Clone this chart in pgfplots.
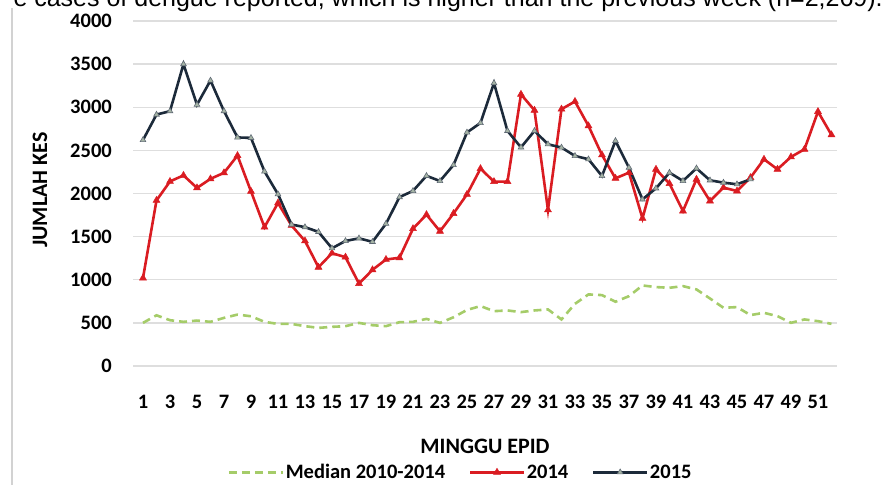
\documentclass[border=0pt]{standalone}
\usepackage{fontspec}
\setmainfont{Carlito}
\newfontfamily\arialfont{Liberation Sans}
\usepackage{pgfplots}
\pgfplotsset{compat=1.18}
\definecolor{red14}{RGB}{218,28,34}
\definecolor{navy15}{RGB}{28,42,58}
\definecolor{mark15}{RGB}{165,180,165}
\definecolor{medgreen}{RGB}{165,204,105}
\definecolor{gridgray}{RGB}{222,222,222}
\begin{document}
\begin{tikzpicture}
\path[use as bounding box] (0pt,0pt) rectangle (896pt,-485pt);
\draw[gray!35, line width=1.5pt] (12pt,-8pt) -- (12pt,-485pt);
\node[anchor=base east, inner sep=0pt, font=\arialfont\fontsize{25}{29}\selectfont] at (883pt,-6.5pt)
  {e cases of dengue reported, which is higher than the previous week (n=2,269).};
\begin{axis}[
  at={(133pt,-366pt)}, anchor=south west,
  scale only axis, width=704pt, height=345pt,
  xmin=0.26, xmax=52.41, ymin=0, ymax=4000,
  xtick={1,3,...,51},
  ytick={0,500,...,4000},
  ymajorgrids, grid style={gridgray, line width=1.3pt},
  axis line style={draw=none}, major tick length=0pt,
  tick style={draw=none},
  /pgf/number format/assume math mode=true,
  /pgf/number format/set thousands separator={},
  ticklabel style={font=\fontsize{20.5}{24}\selectfont\bfseries, inner sep=0pt},
  xticklabel style={anchor=center, yshift=-36pt},
  yticklabel style={anchor=east, xshift=-21pt},
  legend style={at={(0.465,-0.308)}, anchor=center, draw=none, fill=none,
    font=\fontsize{20.5}{24}\selectfont\bfseries, legend columns=3,
    /tikz/every even column/.append style={column sep=22pt},
    inner sep=0pt, nodes={inner sep=1.5pt}},
  legend image code/.code={\draw[mark repeat=2, mark phase=2, #1] plot coordinates {(0pt,0pt) (27pt,0pt) (54pt,0pt)};},
]
\addplot[medgreen, line width=2.6pt, dash pattern=on 8pt off 5pt, mark=none] coordinates {
(1,500)(2,588)(3,531)(4,512)(5,527)(6,512)(7,558)(8,596)(9,577)(10,512)
(11,488)(12,488)(13,462)(14,442)(15,454)(16,462)(17,500)(18,473)(19,462)(20,508)
(21,512)(22,546)(23,500)(24,565)(25,650)(26,695)(27,636)(28,644)(29,625)(30,644)
(31,656)(32,540)(33,721)(34,830)(35,822)(36,745)(37,810)(38,934)(39,915)(40,907)
(41,926)(42,888)(43,783)(44,675)(45,683)(46,590)(47,617)(48,578)(49,501)(50,540)
(51,520)(52,489)};
\addlegendentry{Median 2010-2014}
\addplot[red14, line width=2.6pt, mark=triangle*, mark size=4pt, mark options={solid, fill=red14, line width=0.5pt}] coordinates {
(1,1020)(2,1920)(3,2140)(4,2210)(5,2065)(6,2170)(7,2240)(8,2440)(9,2025)(10,1610)
(11,1890)(12,1630)(13,1450)(14,1145)(15,1308)(16,1262)(17,955)(18,1115)(19,1235)(20,1255)
(21,1592)(22,1755)(23,1562)(24,1768)(25,1990)(26,2288)(27,2138)(28,2138)(29,3150)(30,2965)
(31,1810)(32,2978)(33,3067)(34,2784)(35,2447)(36,2176)(37,2242)(38,1712)(39,2281)(40,2114)
(41,1797)(42,2165)(43,1913)(44,2068)(45,2029)(46,2184)(47,2397)(48,2281)(49,2424)(50,2513)
(51,2950)(52,2680)};
\addlegendentry{2014}
\addplot[navy15, line width=2.6pt, mark=triangle*, mark size=3.3pt, mark options={solid, fill=mark15, draw=navy15!70, line width=0.6pt}] coordinates {
(1,2620)(2,2915)(3,2955)(4,3500)(5,3030)(6,3310)(7,2955)(8,2650)(9,2645)(10,2256)
(11,1992)(12,1640)(13,1610)(14,1555)(15,1365)(16,1450)(17,1480)(18,1440)(19,1650)(20,1958)
(21,2030)(22,2205)(23,2145)(24,2330)(25,2708)(26,2818)(27,3280)(28,2726)(29,2535)(30,2726)
(31,2571)(32,2533)(33,2436)(34,2397)(35,2203)(36,2610)(37,2300)(38,1932)(39,2060)(40,2242)
(41,2146)(42,2292)(43,2153)(44,2126)(45,2107)(46,2165)};
\addlegendentry{2015}
\end{axis}
\node[font=\fontsize{22}{26}\selectfont\bfseries] at (485pt,-446pt) {MINGGU EPID};
\node[rotate=90, font=\fontsize{22}{26}\selectfont\bfseries] at (40pt,-190pt) {JUMLAH KES};
\end{tikzpicture}
\end{document}
